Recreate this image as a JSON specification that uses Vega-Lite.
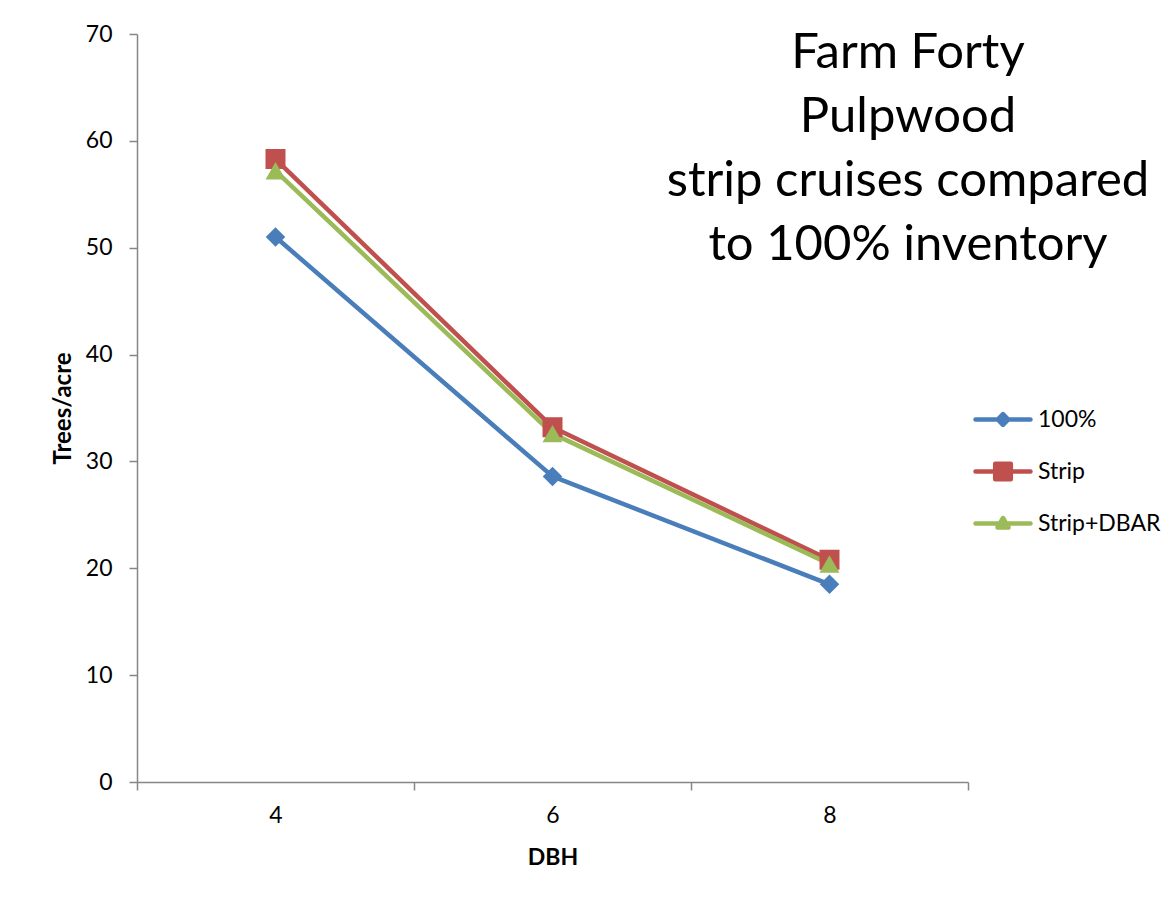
{
  "$schema": "https://vega.github.io/schema/vega-lite/v6.json",
  "width": 831,
  "height": 748,
  "autosize": {"type": "none"},
  "padding": {"left": 137, "top": 34, "right": 206, "bottom": 140},
  "background": "white",
  "config": {
    "view": {"stroke": null},
    "font": "Lato"
  },
  "title": {
    "text": ["Farm Forty", "Pulpwood", "strip cruises compared", "to 100% inventory"],
    "anchor": "start",
    "align": "center",
    "frame": "group",
    "baseline": "top",
    "dx": 771,
    "dy": 247,
    "offset": 0,
    "font": "Lato",
    "fontSize": 49,
    "fontWeight": "normal",
    "lineHeight": 64,
    "color": "black"
  },
  "data": {
    "values": [
      {"dbh": "4", "series": "100%", "trees": 51.0},
      {"dbh": "6", "series": "100%", "trees": 28.6},
      {"dbh": "8", "series": "100%", "trees": 18.5},
      {"dbh": "4", "series": "Strip", "trees": 58.3},
      {"dbh": "6", "series": "Strip", "trees": 33.2},
      {"dbh": "8", "series": "Strip", "trees": 20.8},
      {"dbh": "4", "series": "Strip+DBAR", "trees": 57.2},
      {"dbh": "6", "series": "Strip+DBAR", "trees": 32.6},
      {"dbh": "8", "series": "Strip+DBAR", "trees": 20.4}
    ]
  },
  "encoding": {
    "x": {
      "field": "dbh",
      "type": "ordinal",
      "scale": {"type": "band", "paddingInner": 0, "paddingOuter": 0},
      "axis": {
        "title": "DBH",
        "labelAngle": 0,
        "tickBand": "extent",
        "domainColor": "#868686",
        "domainWidth": 1.5,
        "tickColor": "#868686",
        "tickWidth": 1.5,
        "tickSize": 8,
        "labelFont": "Lato",
        "labelFontSize": 23,
        "labelColor": "black",
        "labelPadding": 14,
        "titleFont": "Lato",
        "titleFontSize": 23,
        "titleFontWeight": "bold",
        "titleColor": "black",
        "titlePadding": 19
      }
    },
    "y": {
      "field": "trees",
      "type": "quantitative",
      "scale": {"domain": [0, 70], "nice": false},
      "axis": {
        "title": "Trees/acre",
        "values": [0, 10, 20, 30, 40, 50, 60, 70],
        "grid": false,
        "domainColor": "#868686",
        "domainWidth": 1.5,
        "tickColor": "#868686",
        "tickWidth": 1.5,
        "tickSize": 8,
        "labelFont": "Lato",
        "labelFontSize": 23,
        "labelColor": "black",
        "labelPadding": 17,
        "titleFont": "Lato",
        "titleFontSize": 24,
        "titleFontWeight": "bold",
        "titleColor": "black",
        "titlePadding": 10
      }
    }
  },
  "layer": [
    {
      "mark": {"type": "line", "strokeWidth": 4.5, "strokeCap": "round", "strokeJoin": "round"},
      "encoding": {
        "color": {
          "field": "series",
          "type": "nominal",
          "scale": {
            "domain": ["100%", "Strip", "Strip+DBAR"],
            "range": ["#4A7EBB", "#C0504D", "#9BBB59"]
          },
          "legend": {
            "title": null,
            "orient": "none",
            "legendX": 853.5,
            "legendY": 373,
            "padding": 0,
            "symbolSize": 400,
            "symbolStrokeWidth": 4.5,
            "rowPadding": 27,
            "labelOffset": 22.5,
            "labelFont": "Lato",
            "labelFontSize": 23,
            "labelColor": "black",
            "labelLimit": 300,
            "encode": {
              "symbols": {
                "update": {
                  "shape": {"signal": "datum.value === '100%' ? 'M-2.75,0L2.75,0M-0.53,0L0,-0.53L0.53,0L0,0.53Z' : datum.value === 'Strip' ? 'M-2.75,0L2.75,0M-0.78,-0.78L0.78,-0.78L0.78,0.78L-0.78,0.78Z' : 'M-2.75,0L2.75,0M-0.55,0.4L0,-0.55L0.55,0.4Z'"},
                  "fill": {"signal": "datum.value === '100%' ? '#4A7EBB' : datum.value === 'Strip' ? '#C0504D' : '#9BBB59'"},
                  "stroke": {"signal": "datum.value === '100%' ? '#4A7EBB' : datum.value === 'Strip' ? '#C0504D' : '#9BBB59'"},
                  "strokeWidth": {"value": 4.5},
                  "strokeJoin": {"value": "round"},
                  "strokeCap": {"value": "round"},
                  "opacity": {"value": 1},
                  "fillOpacity": {"value": 1},
                  "strokeOpacity": {"value": 1}
                }
              }
            }
          }
        }
      }
    },
    {
      "transform": [{"filter": "datum.series === '100%'"}],
      "mark": {"type": "point", "shape": "diamond", "filled": true, "opacity": 1, "size": 380, "color": "#4A7EBB"}
    },
    {
      "transform": [{"filter": "datum.series === 'Strip'"}],
      "mark": {"type": "point", "shape": "square", "filled": true, "opacity": 1, "size": 400, "color": "#C0504D"}
    },
    {
      "transform": [{"filter": "datum.series === 'Strip+DBAR'"}],
      "mark": {"type": "point", "shape": "triangle-up", "filled": true, "opacity": 1, "size": 400, "color": "#9BBB59"}
    }
  ]
}
